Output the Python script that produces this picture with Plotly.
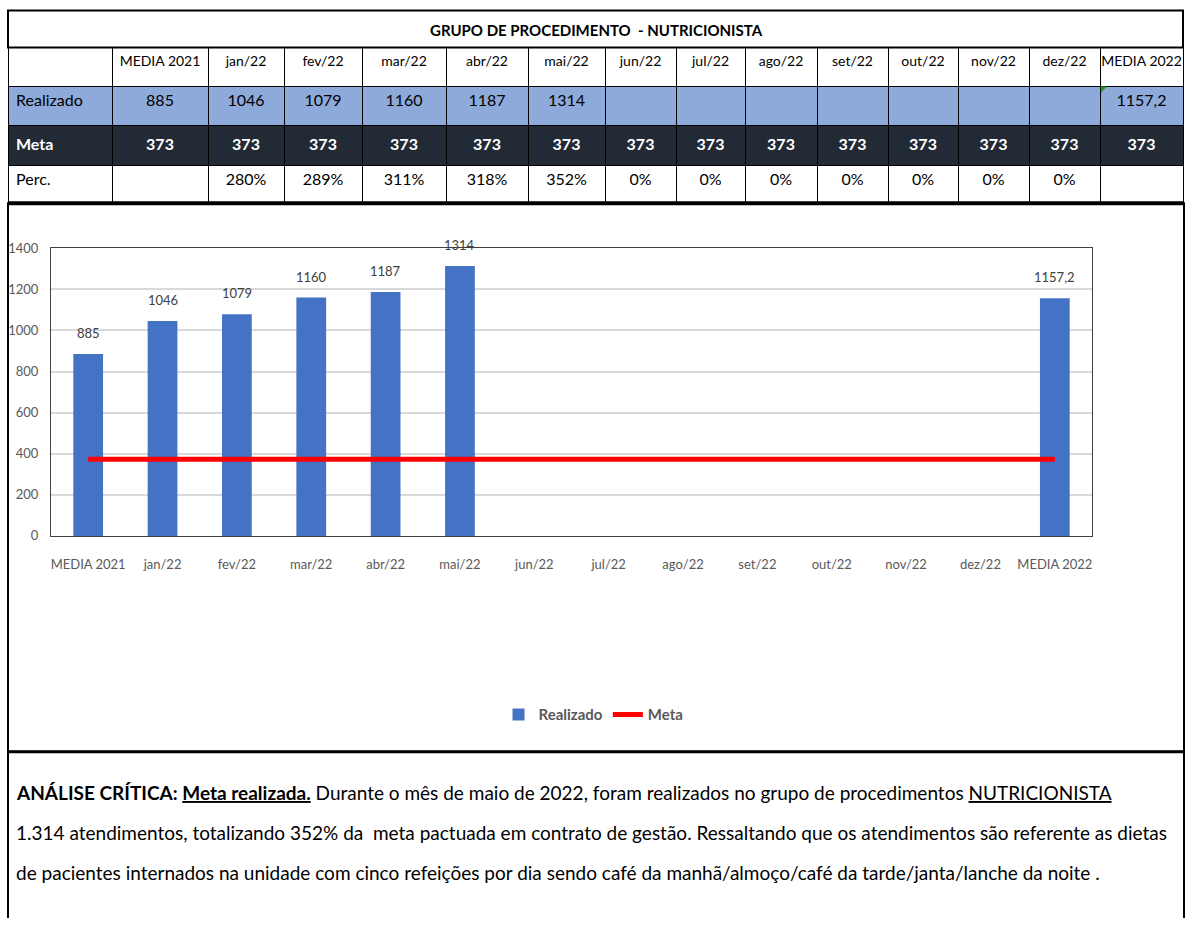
import plotly.graph_objects as go

W, H = 1187, 926
# the captured picture is offset/squeezed slightly in y; map reference pixels back to figure pixels
TOP, SY = 7.4, 0.984

categorias = ["MEDIA 2021", "jan/22", "fev/22", "mar/22", "abr/22", "mai/22", "jun/22",
              "jul/22", "ago/22", "set/22", "out/22", "nov/22", "dez/22", "MEDIA 2022"]
realizado = [885, 1046, 1079, 1160, 1187, 1314, None, None, None, None, None, None, None, 1157.2]
meta = [373] * 14
perc = ["", "280%", "289%", "311%", "318%", "352%", "0%", "0%", "0%", "0%", "0%", "0%", "0%", ""]

titulo = "GRUPO DE PROCEDIMENTO  - NUTRICIONISTA"
analise = [
    "<b>ANÁLISE CRÍTICA: <u>Meta realizada.</u></b> Durante o mês de maio de 2022, foram realizados no grupo de procedimentos <u>NUTRICIONISTA</u>",
    "1.314 atendimentos, totalizando 352% da  meta pactuada em contrato de gestão. Ressaltando que os atendimentos são referente as dietas",
    "de pacientes internados na unidade com cinco refeições por dia sendo café da manhã/almoço/café da tarde/janta/lanche da noite .",
]

FONT = "Lato, Liberation Sans, sans-serif"
AZUL = "#4472c4"


def fx(x):
    return x / W


def fy(y):
    return 1 - (y - TOP) / SY / H


def fmt(v):
    if v is None:
        return ""
    return f"{v:g}".replace(".", ",")


# column borders of the table (px)
bordas = [8, 112, 208, 284, 362, 446, 528, 605, 676, 745, 817, 888, 958, 1029, 1100, 1183]
larguras = [b - a for a, b in zip(bordas[:-1], bordas[1:])]

# table cells
col_vals = [["Realizado", "<b>Meta</b>", "Perc."]]
for r, m, p in zip(realizado, meta, perc):
    col_vals.append([fmt(r), f"<b>{m}</b>", p])
n_cols = len(col_vals)
cabecalho = [""] + [c.replace(" ", "\u00a0") for c in categorias]

fig = go.Figure()

fig.add_trace(go.Table(
    domain=dict(x=[fx(8), fx(1183)], y=[fy(203), fy(47)]),
    columnwidth=larguras,
    header=dict(
        values=cabecalho,
        fill_color="white",
        line=dict(color="black", width=1),
        font=dict(family=FONT, size=14, color="black"),
        align="center",
        height=38 / SY,
    ),
    cells=dict(
        values=col_vals,
        fill_color=[["#8eaadb", "#222a35", "white"]] * n_cols,
        line=dict(color="black", width=1),
        font=dict(family=FONT, size=16, color=[["black", "white", "black"]] * n_cols),
        align=["left"] + ["center"] * (n_cols - 1),
        height=39 / SY,
    ),
))

fig.add_trace(go.Bar(
    x=categorias, y=realizado, name="Realizado",
    marker=dict(color=AZUL, line=dict(width=0)), width=0.4,
    xaxis="x", yaxis="y",
))
fig.add_trace(go.Scatter(
    x=categorias, y=meta, name="Meta", mode="lines",
    line=dict(color="#ff0000", width=5),
    xaxis="x", yaxis="y",
))

# data labels above the bars
annotations = []
for c, v in zip(categorias, realizado):
    if v is None:
        continue
    annotations.append(dict(
        x=c, y=v, xref="x", yref="y", text=fmt(v), showarrow=False,
        yanchor="bottom", yshift=11,
        font=dict(family=FONT, size=13, color="#404040"),
    ))

# title row
annotations.append(dict(
    x=fx(597), y=fy(29), xref="paper", yref="paper", text=f"<b>{titulo}</b>",
    showarrow=False, yanchor="middle", font=dict(family=FONT, size=15, color="black"),
))

# critical analysis text
for i, linha in enumerate(analise):
    annotations.append(dict(
        x=fx(14), y=fy(793 + 40 * i), xref="paper", yref="paper", text=linha,
        showarrow=False, xanchor="left", yanchor="middle", align="left",
        font=dict(family=FONT, size=19, color="black"),
    ))

shapes = [
    # title row box
    dict(type="rect", xref="paper", yref="paper", x0=fx(8), x1=fx(1183), y0=fy(47), y1=fy(10),
         line=dict(color="black", width=2)),
    # chart box
    dict(type="rect", xref="paper", yref="paper", x0=fx(8), x1=fx(1184), y0=fy(752), y1=fy(203),
         line=dict(color="black", width=2)),
    dict(type="line", xref="paper", yref="paper", x0=fx(8), x1=fx(1184), y0=fy(203), y1=fy(203),
         line=dict(color="black", width=4)),
    dict(type="line", xref="paper", yref="paper", x0=fx(8), x1=fx(1184), y0=fy(752), y1=fy(752),
         line=dict(color="black", width=3)),
    # text box sides
    dict(type="line", xref="paper", yref="paper", x0=fx(8), x1=fx(8), y0=fy(752), y1=0,
         line=dict(color="black", width=2)),
    dict(type="line", xref="paper", yref="paper", x0=fx(1184), x1=fx(1184), y0=fy(752), y1=0,
         line=dict(color="black", width=2)),
    # little green comment marker in the MEDIA 2022 cell
    dict(type="path", xref="paper", yref="paper",
         path=f"M {fx(1101)} {fy(86)} L {fx(1107)} {fy(86)} L {fx(1101)} {fy(92)} Z",
         fillcolor="#1e9e1e", line=dict(width=0)),
]

fig.update_layout(
    width=W, height=H,
    margin=dict(l=0, r=0, t=0, b=0),
    paper_bgcolor="white", plot_bgcolor="white",
    font=dict(family=FONT, color="#595959"),
    showlegend=True,
    legend=dict(orientation="h", x=0.5, xanchor="center", y=fy(715), yanchor="middle",
                font=dict(family=FONT, size=15, color="#595959", weight="bold"),
                itemwidth=30, bgcolor="rgba(0,0,0,0)"),
    xaxis=dict(domain=[fx(51), fx(1092)], showgrid=False, showline=True, linecolor="#404040",
               linewidth=1, mirror=True, ticks="", ticklabelstandoff=16,
               tickfont=dict(family=FONT, size=13, color="#595959"), fixedrange=True),
    yaxis=dict(domain=[fy(536), fy(248)], range=[0, 1400], dtick=200, showgrid=True,
               gridcolor="#d9d9d9", gridwidth=1.5, showline=True, linecolor="#404040", linewidth=1,
               mirror=True, zeroline=False, ticks="", ticklabelstandoff=9,
               tickfont=dict(family=FONT, size=13, color="#595959"), fixedrange=True),
    bargap=0.6,
    annotations=annotations,
    shapes=shapes,
)

page_css = (
    "document.body.style.margin='0';"
    "document.body.style.padding='0';"
)
fig.write_html("out.html", config={"displayModeBar": False}, post_script=page_css)
